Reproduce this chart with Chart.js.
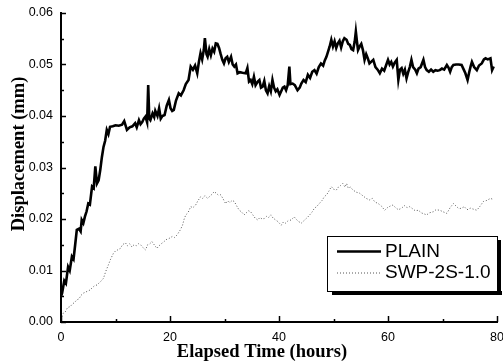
<!DOCTYPE html>
<html>
<head>
<meta charset="utf-8">
<script src="https://cdn.jsdelivr.net/npm/chart.js@4.4.0/dist/chart.umd.min.js"></script>
<style>
  html, body { margin: 0; padding: 0; background: #fff; }
  #wrap { width: 503px; height: 364px; position: relative; }
</style>
</head>
<body>
<div id="wrap"><canvas id="c" width="503" height="364"></canvas></div>
<script>
// ---- data ----
const seriesNames = ["PLAIN", "SWP-2S-1.0"];
const xTitle = "Elapsed Time (hours)";
const yTitle = "Displacement (mm)";
const xTickValues = [0, 20, 40, 60, 80];
const yTickValues = [0.00, 0.01, 0.02, 0.03, 0.04, 0.05, 0.06];

const plainHours = [
  0.0,0.2,0.6,0.9,1.3,1.6,2.0,2.3,2.6,2.9,3.3,3.6,3.8,4.1,4.4,4.7,5.0,5.3,5.7,6.0,
  6.3,6.6,6.9,7.2,7.5,7.8,8.1,8.4,8.7,9.0,9.5,10.0,10.6,11.2,11.6,12.1,12.6,13.1,13.6,13.9,
  14.3,14.6,14.9,15.2,15.5,15.8,16.0,16.2,16.4,16.8,17.1,17.3,17.7,18.0,18.3,18.6,19.0,19.4,19.8,20.1,
  20.4,20.7,21.1,21.6,22.0,22.5,22.9,23.4,23.8,24.2,24.6,25.0,25.3,25.6,25.9,26.2,26.4,26.7,26.9,27.2,
  27.5,27.8,28.1,28.4,28.7,29.0,29.3,29.6,29.9,30.2,30.5,30.8,31.2,31.5,31.8,32.1,32.4,32.8,33.3,33.9,
  34.2,34.5,34.8,35.1,35.4,35.7,36.1,36.4,36.7,37.0,37.3,37.6,37.9,38.2,38.5,38.8,39.1,39.4,39.7,40.1,
  40.4,40.7,41.0,41.3,41.6,41.9,42.1,42.5,42.9,43.4,43.8,44.1,44.5,44.9,45.3,45.7,46.1,46.5,46.9,47.3,
  47.7,48.1,48.4,48.7,49.0,49.3,49.6,49.9,50.2,50.5,50.8,51.1,51.4,51.7,52.0,52.4,52.7,53.0,53.3,53.6,
  53.9,54.1,54.3,54.5,54.8,55.1,55.4,55.7,56.0,56.3,56.6,56.9,57.3,57.7,58.1,58.5,58.9,59.3,59.7,60.0,
  60.3,60.6,60.9,61.2,61.6,61.9,62.2,62.5,62.8,63.1,63.4,63.7,64.0,64.3,64.6,65.0,65.3,65.6,66.0,66.5,
  66.8,67.1,67.5,67.9,68.3,68.7,69.1,69.5,69.9,70.3,70.8,71.1,71.4,71.7,72.0,72.5,73.0,73.5,73.9,74.2,
  74.6,74.9,75.2,75.4,75.8,76.3,76.7,77.2,77.6,77.9,78.3,78.8,79.1,79.4
];
const plainDisp = [
  0.0050,0.0056,0.0080,0.0075,0.0107,0.0100,0.0127,0.0122,0.0150,0.0179,0.0181,0.0176,0.0198,0.0192,0.0205,0.0215,0.0230,0.0228,0.0263,0.0260,
  0.0302,0.0269,0.0275,0.0295,0.0320,0.0340,0.0352,0.0373,0.0365,0.0379,0.0380,0.0382,0.0381,0.0383,0.0390,0.0373,0.0378,0.0380,0.0386,0.0378,
  0.0392,0.0384,0.0388,0.0395,0.0399,0.0388,0.0460,0.0395,0.0392,0.0405,0.0398,0.0410,0.0400,0.0415,0.0395,0.0400,0.0402,0.0420,0.0431,0.0415,
  0.0410,0.0412,0.0430,0.0444,0.0440,0.0450,0.0462,0.0470,0.0496,0.0490,0.0498,0.0483,0.0505,0.0522,0.0510,0.0528,0.0551,0.0520,0.0515,0.0530,
  0.0518,0.0531,0.0525,0.0541,0.0540,0.0532,0.0520,0.0509,0.0502,0.0512,0.0515,0.0505,0.0515,0.0500,0.0496,0.0500,0.0483,0.0485,0.0484,0.0483,
  0.0493,0.0467,0.0470,0.0462,0.0476,0.0460,0.0467,0.0470,0.0455,0.0457,0.0468,0.0450,0.0444,0.0458,0.0448,0.0470,0.0455,0.0448,0.0452,0.0441,
  0.0448,0.0455,0.0457,0.0450,0.0460,0.0496,0.0462,0.0463,0.0460,0.0450,0.0455,0.0463,0.0470,0.0466,0.0480,0.0474,0.0486,0.0489,0.0482,0.0495,
  0.0502,0.0498,0.0508,0.0515,0.0525,0.0535,0.0548,0.0535,0.0545,0.0532,0.0541,0.0546,0.0533,0.0545,0.0551,0.0548,0.0540,0.0538,0.0530,0.0528,
  0.0545,0.0564,0.0545,0.0528,0.0535,0.0540,0.0528,0.0509,0.0520,0.0512,0.0502,0.0505,0.0509,0.0495,0.0490,0.0483,0.0492,0.0488,0.0500,0.0509,
  0.0500,0.0505,0.0496,0.0503,0.0509,0.0470,0.0490,0.0493,0.0482,0.0490,0.0473,0.0485,0.0495,0.0509,0.0495,0.0490,0.0483,0.0492,0.0495,0.0509,
  0.0495,0.0489,0.0486,0.0490,0.0486,0.0489,0.0488,0.0489,0.0492,0.0490,0.0499,0.0494,0.0486,0.0495,0.0499,0.0500,0.0500,0.0499,0.0490,0.0483,
  0.0470,0.0485,0.0498,0.0505,0.0495,0.0489,0.0498,0.0502,0.0510,0.0512,0.0510,0.0512,0.0489,0.0496
];

const swpHours = [
  0.0,0.4,0.8,1.2,1.7,2.1,2.5,2.9,3.3,3.7,4.1,4.5,4.9,5.3,5.7,6.1,6.6,7.0,7.4,7.8,
  8.2,8.7,9.1,9.6,10.0,10.4,10.9,11.3,11.8,12.2,12.6,13.0,13.4,13.8,14.2,14.6,15.0,15.5,15.9,16.3,
  16.7,17.1,17.6,18.0,18.4,18.9,19.3,19.8,20.4,20.8,21.3,21.9,22.3,22.6,22.9,23.3,23.8,24.2,24.7,25.1,
  25.6,26.0,26.4,26.9,27.3,27.7,28.1,28.5,28.9,29.3,29.7,30.2,30.6,31.0,31.4,31.8,32.2,32.7,33.1,33.6,
  34.0,34.4,34.8,35.2,35.6,36.1,36.5,36.9,37.3,37.7,38.1,38.5,38.9,39.4,39.8,40.4,40.8,41.2,41.7,42.2,
  42.8,43.2,43.6,44.1,44.5,44.9,45.3,45.8,46.1,46.5,46.9,47.4,47.9,48.3,48.8,49.2,49.6,50.0,50.5,50.9,
  51.3,51.7,52.1,52.4,52.7,53.1,53.6,54.2,54.8,55.4,56.0,56.6,57.1,57.6,58.2,58.8,59.4,59.9,60.4,60.9,
  61.4,61.9,62.5,63.0,63.5,64.0,64.5,65.0,65.6,66.1,66.6,67.1,67.6,68.3,68.8,69.5,70.1,70.8,71.4,72.0,
  72.5,73.0,73.5,74.0,74.5,75.1,75.7,76.3,76.9,77.5,78.1,78.8,79.3
];
const swpDisp = [
  0.0005,0.0017,0.0020,0.0028,0.0030,0.0035,0.0038,0.0043,0.0045,0.0052,0.0056,0.0058,0.0060,0.0062,0.0066,0.0070,0.0072,0.0076,0.0080,0.0085,
  0.0098,0.0111,0.0122,0.0133,0.0138,0.0140,0.0143,0.0150,0.0154,0.0148,0.0152,0.0146,0.0150,0.0148,0.0152,0.0150,0.0145,0.0140,0.0150,0.0152,
  0.0156,0.0150,0.0143,0.0148,0.0152,0.0156,0.0160,0.0162,0.0166,0.0164,0.0169,0.0179,0.0188,0.0200,0.0208,0.0212,0.0224,0.0222,0.0227,0.0235,
  0.0243,0.0240,0.0245,0.0240,0.0244,0.0248,0.0253,0.0250,0.0246,0.0247,0.0240,0.0230,0.0235,0.0232,0.0236,0.0234,0.0226,0.0217,0.0214,0.0208,
  0.0212,0.0216,0.0214,0.0208,0.0202,0.0198,0.0203,0.0200,0.0201,0.0205,0.0203,0.0208,0.0202,0.0198,0.0195,0.0188,0.0194,0.0192,0.0197,0.0198,
  0.0204,0.0199,0.0195,0.0192,0.0196,0.0200,0.0204,0.0210,0.0214,0.0221,0.0224,0.0230,0.0236,0.0243,0.0248,0.0255,0.0263,0.0258,0.0256,0.0262,
  0.0265,0.0269,0.0262,0.0269,0.0260,0.0262,0.0256,0.0252,0.0250,0.0245,0.0240,0.0237,0.0240,0.0233,0.0230,0.0225,0.0217,0.0222,0.0225,0.0227,
  0.0222,0.0218,0.0221,0.0226,0.0222,0.0224,0.0220,0.0216,0.0217,0.0212,0.0210,0.0208,0.0212,0.0214,0.0218,0.0217,0.0214,0.0211,0.0222,0.0230,
  0.0225,0.0220,0.0221,0.0224,0.0218,0.0221,0.0219,0.0217,0.0225,0.0234,0.0236,0.0240,0.0238
];

// ---- helpers ----
function toPoints(xs, ys) { return xs.map((x, i) => ({ x: x, y: ys[i] })); }

const PLOT = { left: 61, top: 13, right: 497, bottom: 322 };

// inward tick marks drawn through the library's scales
const inwardTicks = {
  id: 'inwardTicks',
  afterDatasetsDraw(chart) {
    const ctx = chart.ctx;
    const xs = chart.scales.x, ys = chart.scales.y;
    const ca = chart.chartArea;
    ctx.save();
    ctx.strokeStyle = '#000';
    ctx.lineWidth = 1.5;
    for (let i = 0; i < yTickValues.length; i++) {
      const p = Math.round(ys.getPixelForValue(yTickValues[i])) + 0.5;
      ctx.beginPath(); ctx.moveTo(ca.left, p); ctx.lineTo(ca.left + 5, p); ctx.stroke();
      if (i < yTickValues.length - 1) {
        const m = Math.round(ys.getPixelForValue((yTickValues[i] + yTickValues[i + 1]) / 2)) + 0.5;
        ctx.beginPath(); ctx.moveTo(ca.left, m); ctx.lineTo(ca.left + 3, m); ctx.stroke();
      }
    }
    for (let i = 0; i < xTickValues.length; i++) {
      const p = Math.round(xs.getPixelForValue(xTickValues[i])) + 0.5;
      ctx.beginPath(); ctx.moveTo(p, ca.bottom); ctx.lineTo(p, ca.bottom - 6); ctx.stroke();
      if (i < xTickValues.length - 1) {
        const m = Math.round(xs.getPixelForValue((xTickValues[i] + xTickValues[i + 1]) / 2)) + 0.5;
        ctx.beginPath(); ctx.moveTo(m, ca.bottom); ctx.lineTo(m, ca.bottom - 3); ctx.stroke();
      }
    }
    ctx.restore();
  }
};

// axis titles + boxed legend with shadow
const decorations = {
  id: 'decorations',
  afterDraw(chart) {
    const ctx = chart.ctx;
    ctx.save();
    ctx.fillStyle = '#000';
    ctx.font = 'bold 18.5px "Liberation Serif", "Times New Roman", serif';
    ctx.textAlign = 'center';
    ctx.textBaseline = 'alphabetic';
    ctx.fillText(xTitle, 262, 357);
    ctx.save();
    ctx.translate(24, 154);
    ctx.rotate(-Math.PI / 2);
    ctx.fillText(yTitle, 0, 0);
    ctx.restore();

    // legend box
    const bx = 327, by = 236, bw = 170, bh = 55;
    ctx.fillStyle = '#000';
    ctx.fillRect(bx + 5, by + bh, bw, 4);
    ctx.fillRect(bx + bw, by + 4, 4, bh);
    ctx.fillStyle = '#fff';
    ctx.fillRect(bx, by, bw, bh);
    ctx.strokeStyle = '#000';
    ctx.lineWidth = 1;
    ctx.strokeRect(bx + 0.5, by + 0.5, bw, bh);

    const rows = [251.5, 273];
    chart.data.datasets.forEach((ds, i) => {
      const y = rows[i];
      ctx.save();
      ctx.strokeStyle = ds.borderColor;
      ctx.lineWidth = ds.borderWidth;
      ctx.setLineDash(ds.borderDash || []);
      ctx.beginPath(); ctx.moveTo(337, y); ctx.lineTo(381, y); ctx.stroke();
      ctx.restore();
      ctx.fillStyle = '#000';
      ctx.font = '19px "Liberation Sans", Arial, sans-serif';
      ctx.textAlign = 'left';
      ctx.textBaseline = 'middle';
      ctx.fillText(ds.label, 385, y);
    });
    ctx.restore();
  }
};

new Chart(document.getElementById('c'), {
  type: 'line',
  data: {
    datasets: [
      {
        label: seriesNames[0],
        data: toPoints(plainHours, plainDisp),
        borderColor: '#000',
        borderWidth: 2.6,
        pointRadius: 0,
        tension: 0,
        fill: false
      },
      {
        label: seriesNames[1],
        data: toPoints(swpHours, swpDisp),
        borderColor: '#555',
        borderWidth: 1,
        borderDash: [1, 2],
        pointRadius: 0,
        tension: 0,
        fill: false
      }
    ]
  },
  options: {
    responsive: false,
    animation: false,
    events: [],
    layout: { padding: { top: PLOT.top, right: 503 - PLOT.right, left: 0, bottom: 0 } },
    plugins: { legend: { display: false }, tooltip: { enabled: false }, title: { display: false } },
    scales: {
      x: {
        type: 'linear',
        min: 0, max: 80,
        afterBuildTicks(scale) { scale.ticks = xTickValues.map(v => ({ value: v })); },
        afterFit(scale) { scale.height = 364 - PLOT.bottom; scale.paddingLeft = 0; scale.paddingRight = 0; },
        grid: { display: false, drawTicks: false },
        border: { display: true, color: '#000', width: 2 },
        ticks: {
          color: '#000',
          padding: 8,
          maxRotation: 0,
          font: { family: '"Liberation Sans", Arial, sans-serif', size: 12.5 },
          callback: v => String(v)
        }
      },
      y: {
        type: 'linear',
        min: 0, max: 0.06,
        afterBuildTicks(scale) { scale.ticks = yTickValues.map(v => ({ value: v })); },
        afterFit(scale) { scale.width = PLOT.left; scale.paddingTop = 0; scale.paddingBottom = 0; },
        grid: { display: false, drawTicks: false },
        border: { display: true, color: '#000', width: 2 },
        ticks: {
          color: '#000',
          padding: 8,
          font: { family: '"Liberation Sans", Arial, sans-serif', size: 12.5 },
          callback: v => Number(v).toFixed(2)
        }
      }
    }
  },
  plugins: [inwardTicks, decorations]
});
</script>
</body>
</html>
